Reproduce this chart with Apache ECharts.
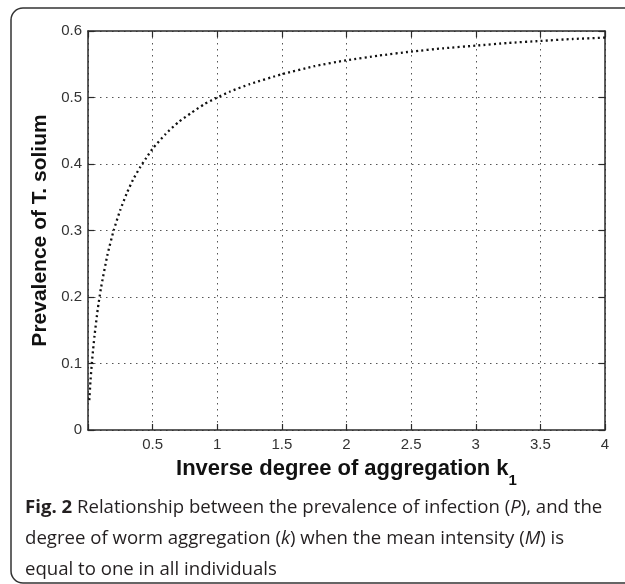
<!DOCTYPE html>
<html>
<head>
<meta charset="utf-8">
<script src="https://cdn.jsdelivr.net/npm/echarts@6/dist/echarts.min.js"></script>
<style>
html,body{margin:0;padding:0;background:#fff;}
#chart{width:625px;height:584px;}
</style>
</head>
<body>
<div id="chart"></div>
<script>
// Inverse degree of aggregation k (x) and prevalence P (y)
const kValues = [0.01, 0.02, 0.03, 0.04, 0.05, 0.075, 0.1, 0.15, 0.2, 0.25, 0.3, 0.35, 0.4, 0.45, 0.5,
  0.6, 0.7, 0.8, 0.9, 1.0, 1.1, 1.25, 1.5, 1.75, 2.0, 2.25, 2.5, 2.75, 3.0, 3.25, 3.5, 3.75, 4.0];
const prevalence = [0.045, 0.076, 0.101, 0.122, 0.141, 0.181, 0.213, 0.263, 0.301, 0.331, 0.356, 0.377, 0.394, 0.409, 0.423,
  0.445, 0.463, 0.477, 0.490, 0.500, 0.509, 0.520, 0.535, 0.547, 0.556, 0.563, 0.569, 0.574, 0.578, 0.582, 0.585, 0.588, 0.590];
const xTickLabels = ['0.5', '1', '1.5', '2', '2.5', '3', '3.5', '4'];
const yTickLabels = ['0', '0.1', '0.2', '0.3', '0.4', '0.5', '0.6'];

const chart = echarts.init(document.getElementById('chart'), null, {renderer: 'canvas'});

function gridStyle() { return {show: true, lineStyle: {color: '#555', width: 1, type: [1.5, 4.5]}}; }
function frameLine() { return {show: true, onZero: false, lineStyle: {color: '#2a2a2a', width: 1.5}}; }
function tickIn() { return {show: true, inside: true, length: 6, lineStyle: {color: '#2a2a2a', width: 1.2}}; }
const FONT = 'Liberation Sans, Arial, sans-serif';

const option = {
  animation: false,
  backgroundColor: '#fff',
  grid: {left: 88, right: 20, top: 31, bottom: 154, containLabel: false},
  xAxis: [{
    type: 'value', min: 0, max: 4, interval: 0.5,
    axisLine: frameLine(), axisTick: tickIn(), splitLine: gridStyle(),
    axisLabel: {margin: 7, fontFamily: FONT, fontSize: 15, color: '#333', formatter: v => {
      const s = String(v); return xTickLabels.indexOf(s) >= 0 ? s : '';
    }},
    name: '{a|Inverse degree of aggregation k}{s|1}',
    nameLocation: 'middle', nameGap: 28,
    nameTextStyle: {
      rich: {
        a: {fontFamily: FONT, fontWeight: 'bold', fontSize: 22, lineHeight: 22, verticalAlign: 'top', color: '#111'},
        s: {fontFamily: FONT, fontWeight: 'bold', fontSize: 15, lineHeight: 46, verticalAlign: 'middle', color: '#111'}
      }
    }
  }, {
    type: 'value', position: 'top', min: 0, max: 4, interval: 0.5,
    axisLine: frameLine(), axisTick: tickIn(), splitLine: {show: false}, axisLabel: {show: false}
  }],
  yAxis: [{
    type: 'value', min: 0, max: 0.6, interval: 0.1,
    axisLine: frameLine(), axisTick: tickIn(), splitLine: gridStyle(),
    axisLabel: {margin: 6, fontFamily: FONT, fontSize: 15, color: '#333', formatter: v => {
      const s = String(Math.round(v * 10) / 10); return yTickLabels.indexOf(s) >= 0 ? s : '';
    }},
    name: 'Prevalence of T. solium', nameLocation: 'middle', nameGap: 30,
    nameTextStyle: {fontFamily: FONT, fontWeight: 'bold', fontSize: 21, color: '#111'}
  }, {
    type: 'value', position: 'right', min: 0, max: 0.6, interval: 0.1,
    axisLine: frameLine(), axisTick: tickIn(), splitLine: {show: false}, axisLabel: {show: false}
  }],
  series: [{
    type: 'line',
    data: kValues.map((k, i) => [k, prevalence[i]]),
    showSymbol: false,
    smooth: 0.2,
    lineStyle: {color: '#111', width: 2.3, type: [2, 3.2], cap: 'butt'},
    z: 5
  }],
  graphic: [{
    type: 'rect', silent: true, z: -1,
    shape: {x: 11, y: 8, width: 700, height: 575, r: 12},
    style: {fill: null, stroke: '#333', lineWidth: 1.5}
  }, {
    type: 'text', left: 25, top: 492, silent: true,
    style: {
      text: '{b|Fig. 2} Relationship between the prevalence of infection ({i|P}), and the\n' +
            'degree of worm aggregation ({i|k}) when the mean intensity ({i|M}) is\n' +
            'equal to one in all individuals',
      fontFamily: 'Open Sans, sans-serif', fontSize: 18.6, lineHeight: 31, fill: '#231f20',
      rich: {
        b: {fontFamily: 'Open Sans, sans-serif', fontWeight: 'bold', fontSize: 18.6, lineHeight: 31, fill: '#231f20'},
        i: {fontFamily: 'Open Sans, sans-serif', fontStyle: 'italic', fontSize: 18.6, lineHeight: 31, fill: '#231f20'}
      }
    }
  }]
};
chart.setOption(option);
</script>
</body>
</html>
